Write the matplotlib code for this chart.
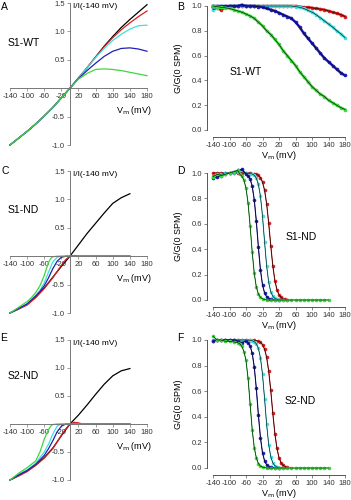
import matplotlib
matplotlib.use("Agg")
import matplotlib.pyplot as plt

plt.rcParams['font.family'] = ['Liberation Sans', 'DejaVu Sans']

## colours of the five curves
BLACK, RED, CYAN, BLUE, GREEN = 'black', '#d82020', '#3ee0e0', '#2020b8', '#3cd83c'

## ---- A: S1-WT, I/I(-140) vs Vm
v_a = [-140, -120, -100, -80, -60, -40, -20, 0, 20, 40, 60, 80, 100, 120, 140, 160, 180]
neg_a = [-1.0, -0.88, -0.76, -0.63, -0.49, -0.34, -0.17, 0.0]
a_black = neg_a + [0.18, 0.36, 0.55, 0.74, 0.91, 1.07, 1.21, 1.34, 1.47]
a_red = neg_a + [0.18, 0.36, 0.55, 0.73, 0.89, 1.03, 1.15, 1.26, 1.36]
a_cyan = neg_a + [0.18, 0.36, 0.54, 0.70, 0.84, 0.95, 1.04, 1.10, 1.11]
a_blue = neg_a + [0.17, 0.31, 0.44, 0.56, 0.65, 0.70, 0.71, 0.69, 0.65]
a_green = neg_a + [0.16, 0.26, 0.33, 0.34, 0.33, 0.31, 0.28, 0.25, 0.22]

## ---- C: S1-ND
c_black_v = [-140, -120, -100, -80, -60, -40, -20, 0, 20, 40, 60, 80, 100, 120, 140]
c_black = [-1.0, -0.93, -0.85, -0.72, -0.56, -0.37, -0.18, 0.0, 0.2, 0.4, 0.58, 0.76, 0.93, 1.03, 1.1]
c_red_v = [-140, -120, -100, -80, -60, -40, -20, -10, 0, 10, 20, 40, 60, 80, 100, 120, 140]
c_red = [-1.0, -0.93, -0.86, -0.73, -0.57, -0.38, -0.16, -0.06, 0.0, 0.01, 0.0, 0.0, 0.0, 0.0, 0.0, 0.0, 0.0]
c_blue_v = [-140, -120, -100, -80, -70, -60, -50, -40, -30, -20, -10, 0, 20, 40, 60, 80, 100, 120, 140]
c_blue = [-1.0, -0.92, -0.84, -0.70, -0.62, -0.52, -0.38, -0.22, -0.09, -0.02, 0.0, 0.0, 0.0, 0.0, 0.0, 0.0, 0.0, 0.0, 0.0]
c_cyan_v = [-140, -120, -100, -80, -70, -60, -50, -40, -30, -20, 0, 20, 40, 60, 80, 100, 120, 140]
c_cyan = [-1.0, -0.92, -0.84, -0.69, -0.60, -0.47, -0.28, -0.10, -0.02, 0.0, 0.0, 0.0, 0.0, 0.0, 0.0, 0.0, 0.0, 0.0]
c_green_v = [-140, -120, -100, -90, -80, -70, -60, -55, -50, -45, -40, -30, -20, 0, 20, 40, 60, 80, 100, 120, 140]
c_green = [-1.0, -0.90, -0.80, -0.73, -0.64, -0.52, -0.34, -0.22, -0.11, -0.04, -0.01, 0.0, 0.0, 0.0, 0.0, 0.0, 0.0, 0.0, 0.0, 0.0, 0.0]

## ---- E: S2-ND
e_black_v = [-140, -120, -100, -80, -60, -40, -20, 0, 20, 40, 60, 80, 100, 120, 140]
e_black = [-1.0, -0.92, -0.84, -0.73, -0.60, -0.43, -0.21, 0.0, 0.16, 0.34, 0.53, 0.71, 0.86, 0.95, 0.99]
e_red_v = [-140, -120, -100, -80, -60, -40, -20, -10, 0, 10, 20, 30, 40, 60, 80, 100, 120, 140]
e_red = [-1.0, -0.93, -0.85, -0.74, -0.61, -0.44, -0.20, -0.09, 0.0, 0.03, 0.02, 0.0, 0.0, 0.0, 0.0, 0.0, 0.0, 0.0]
e_blue_v = [-140, -120, -100, -80, -60, -50, -40, -30, -20, -10, 0, 20, 40, 60, 80, 100, 120, 140]
e_blue = [-1.0, -0.91, -0.83, -0.72, -0.56, -0.44, -0.30, -0.14, -0.04, 0.0, 0.0, 0.0, 0.0, 0.0, 0.0, 0.0, 0.0, 0.0]
e_cyan_v = [-140, -120, -100, -80, -60, -50, -40, -30, -20, 0, 20, 40, 60, 80, 100, 120, 140]
e_cyan = [-1.0, -0.90, -0.82, -0.70, -0.50, -0.36, -0.18, -0.04, 0.0, 0.0, 0.0, 0.0, 0.0, 0.0, 0.0, 0.0, 0.0]
e_green_v = [-140, -120, -100, -80, -70, -60, -50, -45, -40, -30, -20, 0, 20, 40, 60, 80, 100, 120, 140]
e_green = [-1.0, -0.88, -0.78, -0.66, -0.50, -0.27, -0.10, -0.04, -0.01, 0.0, 0.0, 0.0, 0.0, 0.0, 0.0, 0.0, 0.0, 0.0, 0.0]

## ---- B: S1-WT, G/G(0 SPM)
v_b = [-140, -130, -120, -110, -100, -90, -80, -70, -60, -50, -40, -30, -20, -10, 0, 10, 20,
       30, 40, 50, 60, 70, 80, 90, 100, 110, 120, 130, 140, 150, 160, 170, 180]
b_red = [0.99, 0.98, 0.97, 0.99, 1.0, 1.0, 1.0, 1.0, 1.0, 1.0, 1.0, 1.0, 1.0, 1.0, 1.0, 1.0, 1.0,
         1.0, 1.0, 1.0, 1.0, 0.995, 0.99, 0.99, 0.985, 0.98, 0.975, 0.97, 0.96, 0.95, 0.94, 0.93, 0.915]
b_cyan = [0.97, 0.98, 0.99, 0.99, 1.0, 1.0, 1.0, 1.0, 1.0, 1.0, 1.0, 1.0, 1.0, 1.0, 1.0, 1.0, 1.0,
          1.0, 1.0, 1.0, 0.995, 0.99, 0.98, 0.965, 0.95, 0.93, 0.905, 0.88, 0.855, 0.83, 0.80, 0.775, 0.745]
b_blue = [1.0, 1.0, 1.0, 1.0, 1.0, 1.0, 1.0, 1.01, 1.0, 1.0, 1.0, 0.995, 0.99, 0.98, 0.97, 0.96, 0.945,
          0.93, 0.915, 0.90, 0.87, 0.83, 0.78, 0.74, 0.70, 0.66, 0.62, 0.58, 0.55, 0.52, 0.49, 0.46, 0.44]
b_green = [1.0, 0.995, 0.99, 0.985, 0.98, 0.97, 0.96, 0.95, 0.935, 0.92, 0.90, 0.87, 0.84, 0.80, 0.77, 0.73, 0.69,
           0.64, 0.60, 0.56, 0.52, 0.47, 0.43, 0.39, 0.35, 0.32, 0.29, 0.27, 0.24, 0.22, 0.20, 0.18, 0.165]

## ---- D: S1-ND
d_green_v = [-140, -130, -120, -110, -100, -90, -80, -75, -70, -65, -60, -55, -50, -45, -40, -35, -30, -25, -20,
             -10, 0, 10, 20, 30, 40, 50, 60, 70, 80, 90, 100, 110, 120, 130, 140]
d_green = [0.97, 0.99, 0.98, 0.99, 1.0, 1.01, 1.02, 0.99, 0.975, 0.944, 0.881, 0.763, 0.583, 0.378, 0.21, 0.103, 0.047, 0.021, 0.009,
           0.0, 0.0, 0.0, 0.0, 0.0, 0.0, 0.0, 0.0, 0.0, 0.0, 0.0, 0.0, 0.0, 0.0, 0.0, 0.0]
d_blue_v = [-140, -130, -120, -110, -100, -90, -80, -70, -60, -55, -50, -45, -40, -35, -30, -25, -20, -15, -10, -5, 0, 10, 20]
d_blue = [0.96, 0.97, 0.98, 0.99, 1.0, 1.01, 1.02, 1.03, 0.991, 0.979, 0.953, 0.897, 0.79, 0.622, 0.417, 0.237, 0.119, 0.056, 0.025, 0.011, 0.005, 0.0, 0.0]
d_cyan_v = [-140, -130, -120, -110, -100, -90, -80, -70, -60, -50, -45, -40, -35, -30, -25, -20, -15, -10, -5, 0, 5, 10, 15, 20, 30]
d_cyan = [0.98, 0.98, 0.99, 1.0, 1.0, 1.0, 1.01, 1.02, 1.0, 0.995, 0.992, 0.982, 0.96, 0.911, 0.818, 0.66, 0.458, 0.269, 0.138, 0.065, 0.029, 0.013, 0.006, 0.0, 0.0]
d_red_v = [-140, -130, -120, -110, -100, -90, -80, -70, -60, -50, -40, -35, -30, -25, -20, -15, -10, -5, 0, 5, 10, 15, 20, 25, 30, 35, 40]
d_red = [1.0, 1.0, 1.0, 1.0, 1.0, 1.0, 1.0, 1.0, 1.0, 1.0, 0.995, 0.991, 0.982, 0.964, 0.929, 0.865, 0.758, 0.606, 0.428, 0.269, 0.153, 0.081, 0.041, 0.021, 0.01, 0.005, 0.0]

## ---- F: S2-ND
f_green_v = [-140, -130, -120, -110, -100, -90, -80, -75, -70, -65, -60, -55, -50, -45, -40, -35, -30, -25, -20,
             -10, 0, 10, 20, 30, 40, 50, 60, 70, 80, 90, 100, 110, 120, 130, 140]
f_green = [1.03, 1.0, 1.0, 0.99, 0.99, 0.985, 0.98, 0.97, 0.95, 0.91, 0.84, 0.70, 0.50, 0.30, 0.16, 0.08, 0.035, 0.015, 0.007,
           0.0, 0.0, 0.0, 0.0, 0.0, 0.0, 0.0, 0.0, 0.0, 0.0, 0.0, 0.0, 0.0, 0.0, 0.0, 0.0]
f_blue_v = [-140, -130, -120, -110, -100, -90, -80, -70, -60, -55, -50, -45, -40, -35, -30, -25, -20, -15, -10, -5, 0, 10, 20]
f_blue = [0.99, 1.0, 1.0, 1.0, 1.0, 1.0, 0.99, 0.98, 0.991, 0.979, 0.953, 0.897, 0.79, 0.622, 0.417, 0.237, 0.119, 0.056, 0.025, 0.011, 0.005, 0.0, 0.0]
f_cyan_v = [-140, -130, -120, -110, -100, -90, -80, -70, -60, -50, -45, -40, -35, -30, -25, -20, -15, -10, -5, 0, 5, 10, 15, 20, 30]
f_cyan = [1.0, 1.0, 1.0, 1.0, 1.0, 1.0, 1.0, 1.0, 1.0, 0.998, 0.994, 0.987, 0.971, 0.935, 0.862, 0.731, 0.542, 0.34, 0.182, 0.089, 0.04, 0.018, 0.008, 0.003, 0.0]
f_red_v = [-140, -130, -120, -110, -100, -90, -80, -70, -60, -50, -40, -30, -25, -20, -15, -10, -5, 0, 5, 10, 15, 20, 25, 30, 35, 40]
f_red = [0.99, 1.0, 1.0, 1.0, 1.0, 1.0, 1.0, 1.0, 1.0, 1.0, 0.998, 0.991, 0.982, 0.964, 0.929, 0.865, 0.758, 0.606, 0.428, 0.269, 0.153, 0.081, 0.041, 0.021, 0.01, 0.005]

iv_ticks = [-140, -100, -60, -20, 20, 60, 100, 140, 180]
W, H = 351, 500


def px_axes(fig, left, top, right, bottom):
    return fig.add_axes([left / W, 1 - bottom / H, (right - left) / W, (bottom - top) / H])


def iv_panel(ax, curves, name, name_y):
    ax.set_xlim(-140, 180)
    ax.set_ylim(-1.0, 1.5)
    for s in ['top', 'right']:
        ax.spines[s].set_visible(False)
    for s in ['left', 'bottom']:
        ax.spines[s].set_position(('data', 0))
        ax.spines[s].set_color('#777777')
        ax.spines[s].set_linewidth(0.7)
    ax.set_xticks(iv_ticks)
    ax.set_xticklabels([str(t) for t in iv_ticks])
    ax.set_yticks([1.5, 1.0, 0.5, -0.5, -1.0])
    ax.set_yticklabels(['1.5', '1.0', '0.5', '-0.5', '-1.0'])
    ax.tick_params(labelsize=5.5, length=2, width=0.5, pad=1.5, colors='#777777', labelcolor='#333333')
    for v, i, c in curves:
        ax.plot(v, i, color=c, lw=0.9, clip_on=False)
    ax.text(6, 1.43, 'I/I(-140 mV)', fontsize=6, ha='left', va='center')
    ax.text(192, -0.4, r'V$_\mathrm{m}$ (mV)', fontsize=6.5, ha='right', va='center')
    ax.text(-145, name_y, name, fontsize=7.5, ha='left', va='center')
    ax.patch.set_visible(False)


def g_panel(ax, curves, dense):
    ax.set_xlim(-140, 180)
    ax.set_ylim(0, 1.0)
    for s in ['top', 'right']:
        ax.spines[s].set_visible(False)
    ax.spines['left'].set_position(('outward', 4.3))
    ax.spines['bottom'].set_position(('outward', 5))
    for s in ['left', 'bottom']:
        ax.spines[s].set_color('#555555')
        ax.spines[s].set_linewidth(0.7)
    ax.set_xticks(iv_ticks)
    ax.set_xticklabels([str(t) for t in iv_ticks])
    ax.set_yticks([0.0, 0.2, 0.4, 0.6, 0.8, 1.0])
    ax.set_yticklabels(['0.0', '0.2', '0.4', '0.6', '0.8', '1.0'])
    ax.tick_params(labelsize=5.5, length=2, width=0.5, pad=1.5, colors='#555555', labelcolor='#333333')
    for v, g, c in curves:
        if dense:
            ax.plot(v, g, '-o', color=c, lw=1.8, ms=2.6, mew=0, clip_on=False)
        else:
            ax.plot(v, g, '-o', color=c, lw=0.8, ms=2.6, mew=0, clip_on=False)
        ax.plot(v, g, color='black', lw=0.4, clip_on=False)
    ax.set_ylabel('G/G(0 SPM)', fontsize=6.5, labelpad=1)
    ax.yaxis.set_label_coords(-0.23, 0.5)
    ax.set_xlabel(r'V$_\mathrm{m}$ (mV)', fontsize=6.5, labelpad=0)
    ax.patch.set_visible(False)
    return ax


fig = plt.figure(figsize=(3.51, 5.0), dpi=100)

axA = px_axes(fig, 10, 3, 147, 145)
iv_panel(axA, [(v_a, a_black, BLACK), (v_a, a_red, RED), (v_a, a_cyan, CYAN),
               (v_a, a_blue, BLUE), (v_a, a_green, GREEN)], 'S1-WT', 0.8)
axC = px_axes(fig, 10, 171, 147, 313)
iv_panel(axC, [(c_black_v, c_black, BLACK), (c_red_v, c_red, RED), (c_cyan_v, c_cyan, CYAN),
               (c_blue_v, c_blue, BLUE), (c_green_v, c_green, GREEN)], 'S1-ND', 0.81)
axE = px_axes(fig, 10, 340, 147, 480)
iv_panel(axE, [(e_black_v, e_black, BLACK), (e_red_v, e_red, RED), (e_cyan_v, e_cyan, CYAN),
               (e_blue_v, e_blue, BLUE), (e_green_v, e_green, GREEN)], 'S2-ND', 0.85)

axB = px_axes(fig, 213, 6, 345, 130)
g_panel(axB, [(v_b, b_red, RED), (v_b, b_cyan, CYAN), (v_b, b_blue, BLUE), (v_b, b_green, GREEN)], True)
axB.text(-60, 0.47, 'S1-WT', fontsize=7.5, ha='center', va='center')
axD = px_axes(fig, 213, 173, 345, 300)
g_panel(axD, [(d_red_v, d_red, RED), (d_cyan_v, d_cyan, CYAN), (d_blue_v, d_blue, BLUE), (d_green_v, d_green, GREEN)], False)
axD.text(75, 0.5, 'S1-ND', fontsize=7.5, ha='center', va='center')
axF = px_axes(fig, 213, 340, 345, 468)
g_panel(axF, [(f_red_v, f_red, RED), (f_cyan_v, f_cyan, CYAN), (f_blue_v, f_blue, BLUE), (f_green_v, f_green, GREEN)], False)
axF.text(72, 0.52, 'S2-ND', fontsize=7.5, ha='center', va='center')

for letter, x, y in [('A', 1, 2), ('B', 177, 2), ('C', 2, 166), ('D', 177, 166), ('E', 0, 333), ('F', 177, 333)]:
    fig.text(x / W, 1 - y / H, letter, fontsize=7.5, ha='left', va='top')

fig.savefig('out.png', dpi=100)
